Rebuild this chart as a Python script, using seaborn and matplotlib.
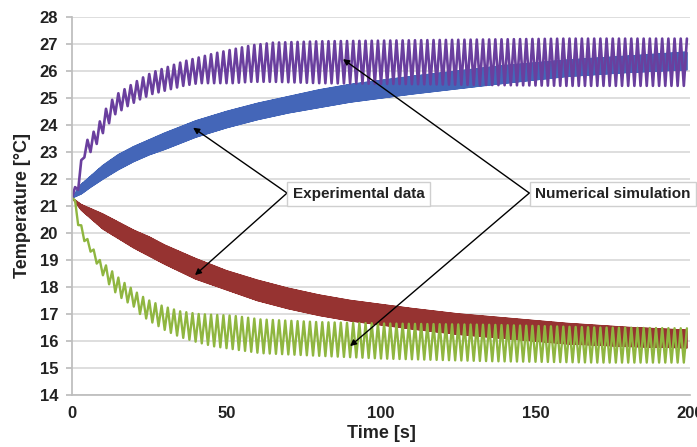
import numpy as np
import pandas as pd
import matplotlib
matplotlib.use("Agg")
import matplotlib.pyplot as plt
import seaborn as sns

# Envelopes (upper / lower limits of the oscillating temperature) at knot times [s]
sim_hot_t  = [0, 2, 4, 6, 8, 11, 14, 18, 22, 26, 31, 36, 41, 46, 52, 58, 65, 80, 120, 160, 199]
sim_hot_hi = [21.3, 22.1, 23.3, 23.6, 23.9, 24.6, 25.1, 25.4, 25.7, 25.95, 26.15, 26.35, 26.5,
              26.65, 26.8, 26.95, 27.05, 27.1, 27.15, 27.2, 27.2]
sim_hot_lo = [21.3, 21.6, 22.8, 23.0, 23.3, 23.9, 24.4, 24.7, 24.95, 25.15, 25.3, 25.45, 25.55,
              25.55, 25.55, 25.6, 25.6, 25.55, 25.5, 25.45, 25.45]

exp_t = [0, 3, 6, 10, 15, 20, 25, 30, 40, 50, 60, 70, 80, 90, 100, 110, 125, 140, 160, 180, 199]
exp_hot_hi = [21.3, 21.8, 22.1, 22.5, 22.9, 23.2, 23.45, 23.7, 24.15, 24.5, 24.8, 25.05, 25.3,
              25.5, 25.65, 25.8, 26.0, 26.2, 26.4, 26.55, 26.7]
exp_hot_lo = [21.3, 21.45, 21.7, 22.0, 22.35, 22.65, 22.9, 23.1, 23.55, 23.9, 24.2, 24.45, 24.65,
              24.85, 25.0, 25.15, 25.35, 25.55, 25.8, 25.95, 26.05]
exp_cold_hi = [21.3, 21.05, 20.9, 20.7, 20.4, 20.1, 19.85, 19.55, 19.05, 18.6, 18.25, 17.95, 17.7,
               17.5, 17.35, 17.2, 17.0, 16.85, 16.65, 16.5, 16.4]
exp_cold_lo = [21.3, 20.85, 20.55, 20.15, 19.8, 19.45, 19.15, 18.85, 18.3, 17.9, 17.5, 17.2, 16.95,
               16.75, 16.6, 16.45, 16.25, 16.1, 15.9, 15.8, 15.75]

sim_cold_t  = [0, 1, 2.6, 4, 5.8, 7.5, 9, 12, 14.5, 17, 19.8, 22, 25, 28, 30.6, 35, 41, 46, 52,
               61, 80, 100, 136, 170, 199]
sim_cold_hi = [21.3, 21.2, 20.4, 20.0, 19.6, 19.3, 19.0, 18.7, 18.4, 18.15, 17.9, 17.7, 17.5,
               17.35, 17.25, 17.1, 17.0, 16.97, 16.94, 16.8, 16.7, 16.65, 16.6, 16.5, 16.47]
sim_cold_lo = [21.3, 20.7, 20.05, 19.7, 19.35, 19.0, 18.6, 18.1, 17.73, 17.5, 17.3, 17.0, 16.75,
               16.55, 16.37, 16.15, 15.94, 15.8, 15.7, 15.55, 15.45, 15.35, 15.25, 15.2, 15.2]

y_ticks = list(range(14, 29))
x_ticks = [0, 50, 100, 150, 200]

SIM_PERIOD = 2.0     # s, cycle of the simulated boundary condition
EXP_PERIOD = 0.25    # s, fast fluctuation of the measured signal


def oscillation(t_knots, hi, lo, period, t_end=199.0):
    tv = np.arange(0.0, t_end + 1e-9, period / 2.0)
    h = np.interp(tv, t_knots, hi)
    l = np.interp(tv, t_knots, lo)
    y = np.where(np.arange(len(tv)) % 2 == 0, l, h)
    return pd.DataFrame({"t": tv, "T": y})


sns.set_theme(style="whitegrid")
plt.rcParams["font.family"] = ["Liberation Sans", "DejaVu Sans"]

fig = plt.figure(figsize=(6.97, 4.47), dpi=100)
ax = fig.add_axes([72 / 697, 1 - 395 / 447, 618 / 697, 378 / 447])

# Measured signals: dense fluctuation filling the band between the envelopes
for hi, lo, col in [(exp_hot_hi, exp_hot_lo, "#4466b8"), (exp_cold_hi, exp_cold_lo, "#963331")]:
    ax.fill_between(exp_t, lo, hi, color=col, lw=0)
    df = oscillation(exp_t, hi, lo, EXP_PERIOD)
    sns.lineplot(data=df, x="t", y="T", ax=ax, color=col, lw=1.2,
                 sort=False, estimator=None)

# Simulated signals: slower periodic cycle
for tk, hi, lo, col, lw in [(sim_hot_t, sim_hot_hi, sim_hot_lo, "#6a3f9e", 1.9),
                            (sim_cold_t, sim_cold_hi, sim_cold_lo, "#8fb640", 1.7)]:
    df = oscillation(tk, hi, lo, SIM_PERIOD)
    sns.lineplot(data=df, x="t", y="T", ax=ax, color=col, lw=lw,
                 sort=False, estimator=None)

ax.set_xlim(0, 200)
ax.set_ylim(14, 28)
ax.set_xticks(x_ticks)
ax.set_yticks(y_ticks)
ax.set_xticklabels([str(v) for v in x_ticks], fontsize=12, fontweight="bold", color="#222222")
ax.set_yticklabels([str(v) for v in y_ticks], fontsize=12, fontweight="bold", color="#222222")
ax.grid(axis="y", color="#d4d4d4", lw=1.1)
ax.grid(axis="x", visible=False)
for s in ["top", "right"]:
    ax.spines[s].set_visible(False)
ax.spines["left"].set_color("#bdbdbd")
ax.spines["bottom"].set_color("#bdbdbd")
ax.tick_params(axis="y", length=4, color="#bdbdbd", pad=6, left=True)
ax.tick_params(axis="x", length=0, pad=8)
ax.set_xlabel("Time [s]", fontsize=13, fontweight="bold", labelpad=3, color="#222222")
ax.set_ylabel("Temperature [°C]", fontsize=13, fontweight="bold", labelpad=6, color="#222222")

# Callout boxes with arrows pointing at the curves
box = dict(boxstyle="square,pad=0.35", fc="white", ec="#cfcfcf", lw=1)
arrow = dict(arrowstyle="-|>", color="black", lw=1.0, mutation_scale=9,
             shrinkA=0, shrinkB=0)

exp_src = (69.6, 21.48)
for tgt in [(39.2, 23.9), (39.8, 18.44)]:
    ax.annotate("", xy=tgt, xytext=exp_src, arrowprops=arrow, zorder=5)
ax.text(71.4, 21.44, "Experimental data", fontsize=11, fontweight="bold", color="#222222",
        ha="left", va="center", bbox=box, zorder=6)

sim_src = (148.0, 21.48)
for tgt in [(87.7, 26.44), (90.0, 15.81)]:
    ax.annotate("", xy=tgt, xytext=sim_src, arrowprops=arrow, zorder=5)
ax.text(149.8, 21.44, "Numerical simulation", fontsize=11, fontweight="bold", color="#222222",
        ha="left", va="center", bbox=box, zorder=6, clip_on=False)

fig.savefig("out.png", dpi=100)
